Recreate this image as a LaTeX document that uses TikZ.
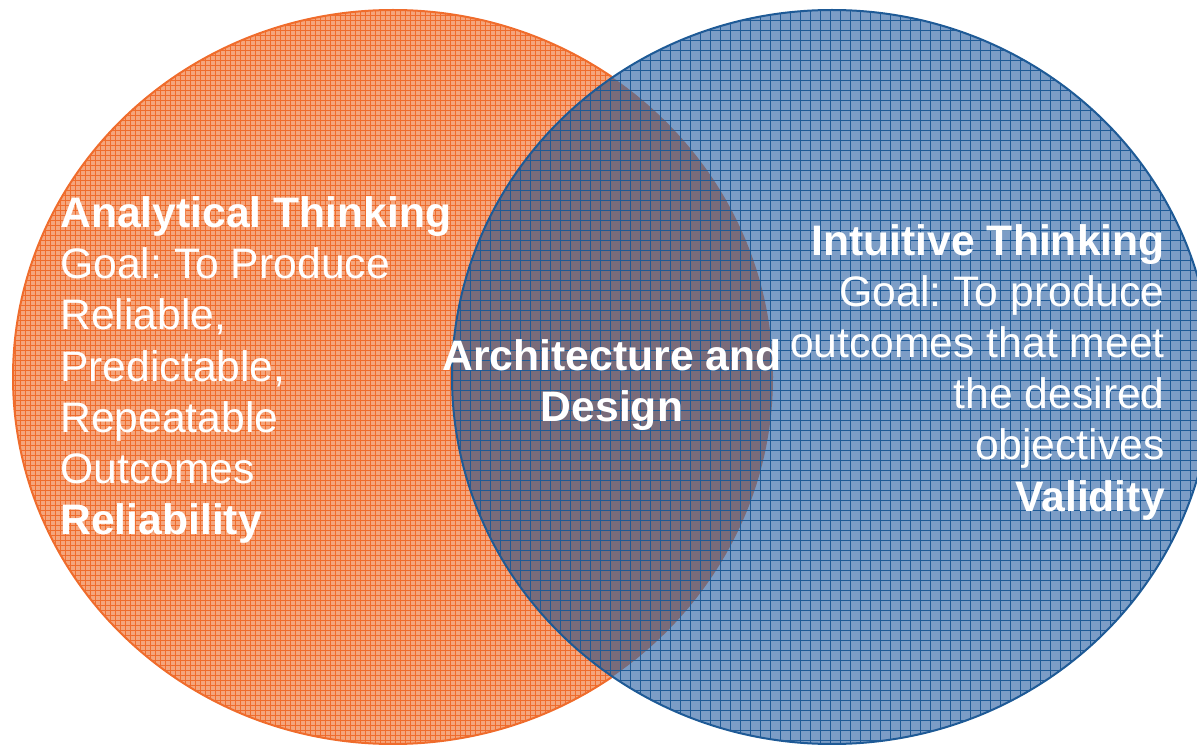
\documentclass[tikz,border=0pt]{standalone}
\usepackage{fontspec}
\setmainfont{Liberation Sans}
\usepackage{tikz}
\usetikzlibrary{positioning}
\frenchspacing

\definecolor{orangeline}{HTML}{EF6C2C}
\definecolor{orangebase}{HTML}{F5A57C}
\definecolor{blueline}{HTML}{1E5A96}
\definecolor{bluebase}{HTML}{7C9DC6}
\definecolor{overlapbase}{HTML}{7A6C7A}

\tikzset{
  bigtext/.style={text=white, inner sep=0pt, font=\fontsize{32}{38.4}\selectfont},
  gridline/.style={line width=0.7pt}
}

\begin{document}
\begin{tikzpicture}[x=0.75pt, y=-0.75pt]
        \useasboundingbox (0,0) rectangle (1197,745);
        % left circle
        \fill[orangebase] (393,377) ellipse [x radius=380, y radius=367];
        \begin{scope}
            \clip (393,377) ellipse [x radius=380, y radius=367];
            \foreach \x in {0,5,...,780} \draw[gridline, orangeline] (\x,0) -- (\x,750);
            \foreach \y in {0,5,...,750} \draw[gridline, orangeline] (0,\y) -- (780,\y);
        \end{scope}
        \draw[orangeline, line width=1.5pt] (393,377) ellipse [x radius=380, y radius=367];
        % right circle
        \fill[bluebase] (832,377) ellipse [x radius=380, y radius=367];
        \begin{scope}
            \clip (393,377) ellipse [x radius=380, y radius=367];
            \fill[overlapbase] (832,377) ellipse [x radius=380, y radius=367];
        \end{scope}
        \begin{scope}
            \clip (832,377) ellipse [x radius=380, y radius=367];
            \foreach \x in {450,460,...,1220} \draw[gridline, blueline] (\x,0) -- (\x,750);
            \foreach \y in {0,10,...,750} \draw[gridline, blueline] (440,\y) -- (1220,\y);
        \end{scope}
        \draw[blueline, line width=1.5pt] (832,377) ellipse [x radius=380, y radius=367];
        % labels
        \node[bigtext, anchor=west, align=left] (analytic) at (60,370)
            {\textbf{Analytical Thinking}\\Goal: To Produce\\Reliable,\\Predictable,\\Repeatable\\Outcomes\\\textbf{Reliability}};
        \node[bigtext, anchor=east, align=right] (intuitive) at (1165,372)
            {\textbf{Intuitive Thinking}\\Goal: To produce\\outcomes that meet\\the desired\\objectives\\\textbf{Validity}};
        \node[bigtext, align=center, font=\fontsize{32}{38.4}\selectfont\bfseries] (arch) at (612,385)
            {Architecture and\\Design};
\end{tikzpicture}
\end{document}
